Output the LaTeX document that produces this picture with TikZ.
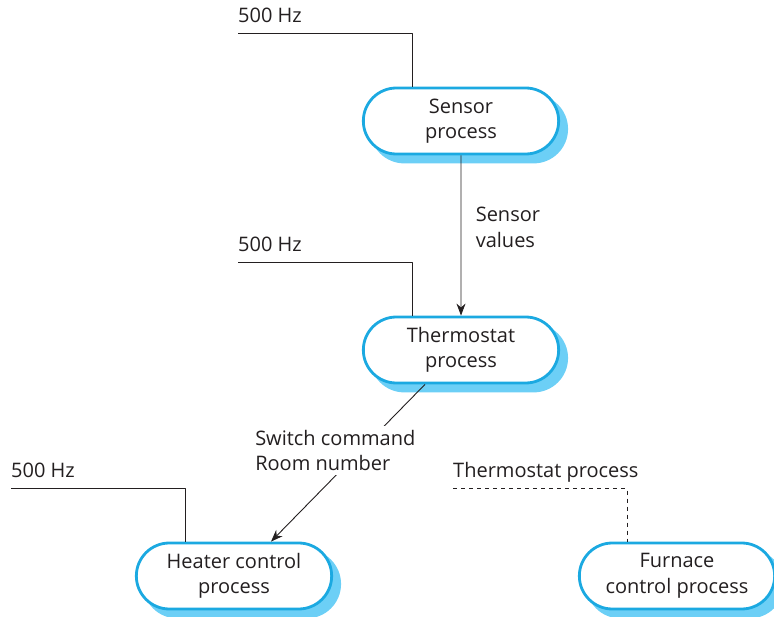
\documentclass[tikz,border=0pt]{standalone}
\usepackage{fontspec}
\setmainfont{Open Sans}
\usetikzlibrary{shapes.misc,shadows,arrows.meta}

\definecolor{procline}{HTML}{1BA9E1}
\definecolor{procshade}{HTML}{6CCFF6}
\definecolor{inkgray}{HTML}{231F20}

\begin{document}
\begin{tikzpicture}[
  x=1pt, y=-1pt,
  line join=round,
  text=inkgray,
  font=\fontsize{20}{25.5}\selectfont,
  process/.style={rounded rectangle, draw=procline, line width=2.8pt,
    fill=white, minimum width=202pt, minimum height=66pt, align=center,
    copy shadow={shadow xshift=8pt, shadow yshift=-8pt,
      fill=procshade, draw=procshade}},
  wire/.style={line width=0.9pt, draw=inkgray},
  flow/.style={wire, -{Stealth[length=12pt,width=9pt]}},
  rate/.style={anchor=base west, inner sep=0pt},
]
\useasboundingbox (0,0) rectangle (774,617);

% the four processes
\node[process] (sensor)  at (461,121) {Sensor\\process};
\node[process] (thermo)  at (461,350) {Thermostat\\process};
\node[process] (heater)  at (234,576) {Heater control\\process};
\node[process] (furnace) at (677,576) {Furnace\\control process};

% periodic inputs, all at 500 Hz
\foreach \proc in {sensor,thermo,heater} {
  \coordinate (\proc-in) at ([xshift=-223pt,yshift=53pt]\proc.north);
  \node[rate] (\proc-rate) at ([yshift=11pt]\proc-in) {500 Hz};
  \draw[wire] (\proc-in) -| ([xshift=-49pt]\proc.north);
}

% the furnace is started by the thermostat
\coordinate (furnace-in) at ([xshift=-224pt,yshift=53pt]furnace.north);
\node[rate] (furnace-rate) at ([yshift=11pt]furnace-in) {Thermostat process};
\draw[wire, dash pattern=on 4pt off 4pt] (furnace-in) -| ([xshift=-50pt]furnace.north);

% data flows
\draw[flow] (sensor) -- node[pos=0.45, anchor=west, xshift=11pt, align=left]
  (values) {Sensor\\values} (thermo);
\draw[flow] ([xshift=-36pt]thermo.south) -- node[pos=0.42, xshift=-25pt,
  fill=white, inner sep=4pt, align=left] (cmd) {Switch command\\Room number}
  ([xshift=37pt]heater.north);

\end{tikzpicture}
\end{document}
